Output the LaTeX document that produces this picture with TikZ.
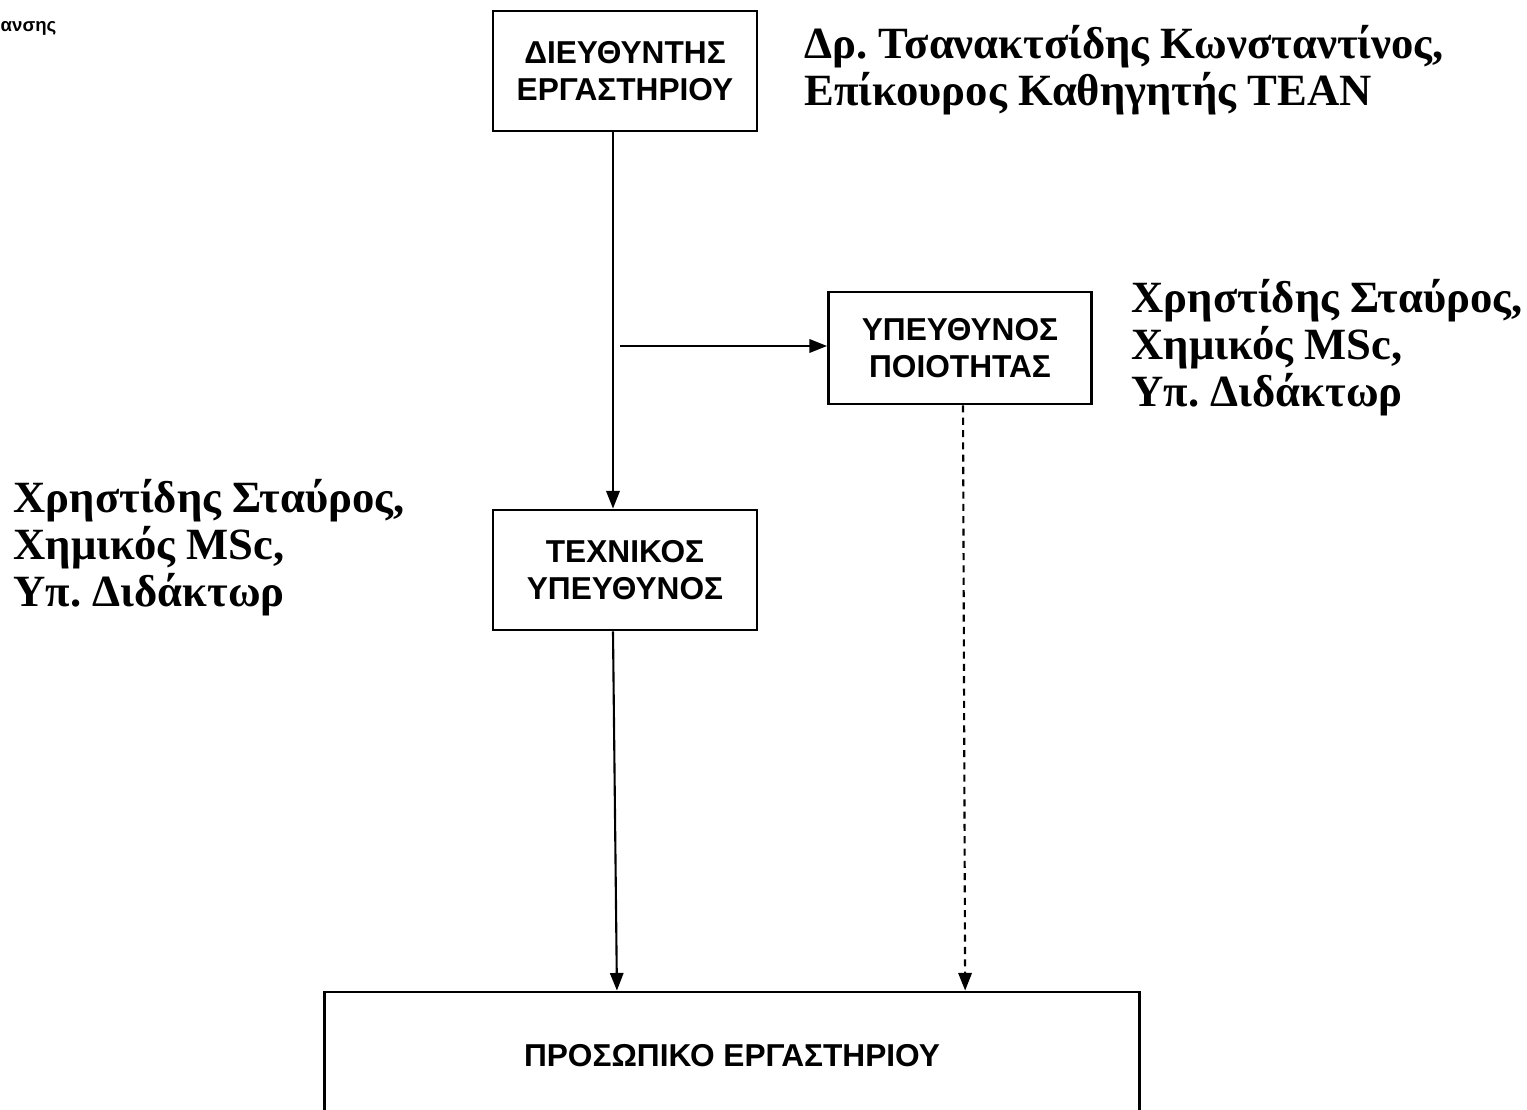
\documentclass[tikz,border=0pt]{standalone}
\usepackage{fontspec}
\setmainfont{Liberation Serif}
\newfontfamily\boxfont{Liberation Sans}
\usetikzlibrary{arrows.meta}

\tikzset{
  unitbox/.style={draw, line width=0.8pt, inner sep=0pt, align=center,
    font=\boxfont\bfseries\fontsize{9}{10.6}\selectfont},
  person/.style={anchor=west, inner sep=0pt, align=left,
    font=\frenchspacing\bfseries\fontsize{12.7}{13.4}\selectfont},
  link/.style={line width=0.6pt, -{Triangle[length=5pt,width=3.8pt]}},
  duty/.style={link, dash pattern=on 2pt off 1.5pt}
}

\begin{document}
\begin{tikzpicture}[x=0.01cm, y=-0.01cm]
  \useasboundingbox (0,0) rectangle (1527,1110);
  \fill[white] (0,0) rectangle (1527,1110);

  % leftover of the logo
  \node[anchor=west, inner sep=0pt, font=\boxfont\bfseries\fontsize{5.3}{6}\selectfont] (logo) at (0,28) {ανσης};

  % boxes
  \node[unitbox, minimum width=2.64cm, minimum height=1.2cm] (dir) at (625,71) {ΔΙΕΥΘΥΝΤΗΣ\\ΕΡΓΑΣΤΗΡΙΟΥ};
  \node[unitbox, minimum width=2.63cm, minimum height=1.12cm] (qual) at (960,348) {ΥΠΕΥΘΥΝΟΣ\\ΠΟΙΟΤΗΤΑΣ};
  \node[unitbox, minimum width=2.64cm, minimum height=1.2cm] (tech) at (625,570) {ΤΕΧΝΙΚΟΣ\\ΥΠΕΥΘΥΝΟΣ};
  \node[unitbox, minimum width=8.15cm, minimum height=1.28cm] (staff) at (732,1056) {ΠΡΟΣΩΠΙΚΟ ΕΡΓΑΣΤΗΡΙΟΥ};

  % names
  \node[person] (dirname) at (804,70) {Δρ. Τσανακτσίδης Κωνσταντίνος,\\Επίκουρος Καθηγητής ΤΕΑΝ};
  \node[person] (qualname) at (1131,348) {Χρηστίδης Σταύρος,\\Χημικός MSc,\\Υπ. Διδάκτωρ};
  \node[person] (techname) at (13,548) {Χρηστίδης Σταύρος,\\Χημικός MSc,\\Υπ. Διδάκτωρ};

  % connectors
  \coordinate (branch) at (620,346);
  \draw[link] ([xshift=-0.12cm]dir.south) -- ([xshift=-0.12cm]tech.north);
  \draw[link] (branch) -- (branch -| qual.west);
  \draw[link] ([xshift=-0.12cm]tech.south) -- ([xshift=-1.15cm]staff.north);
  \draw[duty] ([xshift=0.03cm]qual.south) -- ([xshift=2.33cm]staff.north);
\end{tikzpicture}
\end{document}
